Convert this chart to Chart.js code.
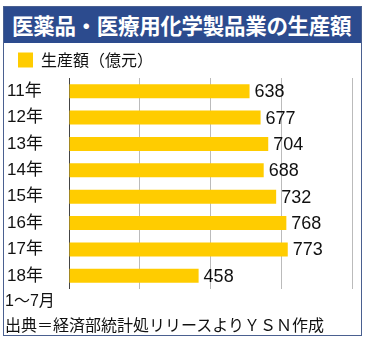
<!DOCTYPE html>
<html>
<head>
<meta charset="utf-8">
<script src="https://cdn.jsdelivr.net/npm/chart.js@4.4.0/dist/chart.umd.min.js"></script>
<style>
  html, body { margin: 0; padding: 0; background: #fff; }
  body { width: 367px; height: 340px; position: relative; overflow: hidden;
         font-family: "Liberation Sans", "Noto Sans CJK JP", sans-serif; }
  #frame { position: absolute; left: 3px; top: 6px; width: 357px; height: 328px;
           border: 1px solid #4a6090; }
  #title { position: absolute; left: 4px; top: 7px; width: 357px; height: 36px;
           background: #2c4b8e; color: #fff; font-family: "Noto Sans CJK JP", sans-serif;
           font-weight: bold; font-size: 21.5px; line-height: 36px; padding-left: 8px;
           box-sizing: border-box; letter-spacing: -0.3px; }
  #wrap { position: absolute; left: 4px; top: 46px; width: 357px; height: 243px; }
  .note { position: absolute; left: 5px; color: #111; font-size: 16px;
          font-family: "Liberation Sans", "Noto Sans CJK JP", sans-serif; white-space: nowrap; }
</style>
</head>
<body>
<div id="frame"></div>
<div id="title">医薬品・医療用化学製品業の生産額</div>
<div id="wrap"><canvas id="chart" width="357" height="243"></canvas></div>
<div class="note" style="top:287px;">1〜7月</div>
<div class="note" style="top:312px;">出典＝経済部統計処リリースよりＹＳＮ作成</div>
<script>
const years = ['11年', '12年', '13年', '14年', '15年', '16年', '17年', '18年'];
const production = [638, 677, 704, 688, 732, 768, 773, 458];
const seriesName = '生産額（億元）';
const xTicks = [0, 250, 500, 750, 1000];

const valueLabels = {
  id: 'valueLabels',
  afterDatasetsDraw(chart) {
    const ctx = chart.ctx;
    const meta = chart.getDatasetMeta(0);
    ctx.save();
    ctx.font = '18px "Liberation Sans", "Noto Sans CJK JP", sans-serif';
    ctx.fillStyle = '#111';
    ctx.textAlign = 'left';
    ctx.textBaseline = 'middle';
    meta.data.forEach((bar, i) => {
      ctx.fillText(String(production[i]), bar.x + 5, bar.y + 1);
    });
    ctx.restore();
  }
};

const shiftLegend = {
  id: 'shiftLegend',
  afterLayout(chart) {
    chart.legend.left += 5;
    chart.legend.right += 5;
  }
};

new Chart(document.getElementById('chart'), {
  type: 'bar',
  data: {
    labels: years,
    datasets: [{
      label: seriesName,
      data: production,
      backgroundColor: '#ffcc00',
      borderWidth: 0,
      barPercentage: 0.53,
      categoryPercentage: 1
    }]
  },
  options: {
    indexAxis: 'y',
    responsive: false,
    animation: false,
    layout: { padding: { left: 3, right: 9, top: 0, bottom: 0 } },
    plugins: {
      legend: {
        display: true,
        position: 'top',
        align: 'start',
        labels: {
          boxWidth: 15,
          boxHeight: 15,
          padding: 6,
          color: '#111',
          font: { size: 16, lineHeight: 1, family: '"Noto Sans CJK JP", sans-serif' }
        }
      },
      tooltip: { enabled: false }
    },
    scales: {
      x: {
        min: 0,
        max: 1000,
        afterBuildTicks: axis => { axis.ticks = xTicks.map(v => ({ value: v })); },
        ticks: { display: false },
        grid: { color: '#bbbbbb', lineWidth: 1, drawTicks: false },
        border: { display: false },
        afterFit: axis => { axis.height = 0; axis.paddingLeft = 0; axis.paddingRight = 0; }
      },
      y: {
        grid: { display: false, drawTicks: false },
        border: { display: true, color: '#444', width: 1 },
        ticks: {
          crossAlign: 'far',
          color: '#111',
          font: { size: 17, family: '"Liberation Sans", "Noto Sans CJK JP", sans-serif' }
        },
        afterFit: axis => { axis.width = 62; axis.paddingTop = 0; axis.paddingBottom = 0; }
      }
    }
  },
  plugins: [valueLabels, shiftLegend]
});
</script>
</body>
</html>
